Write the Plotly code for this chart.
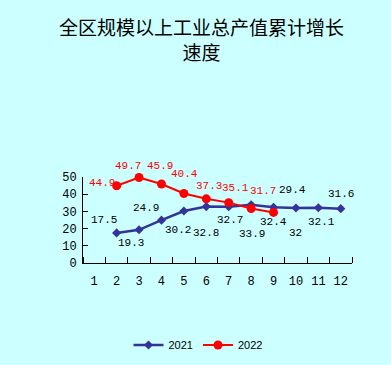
import plotly.graph_objects as go

# ---- data ----
months = list(range(1, 13))
month_labels = [str(m) for m in months]
months_2021 = [2, 3, 4, 5, 6, 7, 8, 9, 10, 11, 12]
values_2021 = [17.5, 19.3, 24.9, 30.2, 32.8, 32.7, 33.9, 32.4, 32, 32.1, 31.6]
months_2022 = [2, 3, 4, 5, 6, 7, 8, 9]
values_2022 = [44.9, 49.7, 45.9, 40.4, 37.3, 35.1, 31.7, 29.4]
y_ticks = [0, 10, 20, 30, 40, 50]
title_text = "全区规模以上工业总产值累计增长<br>速度"

# ---- style ----
BG = "#CCFFFF"
BLUE = "#333399"
RED = "#FF0000"
LABEL_FONT = "Liberation Mono"
PLOT_TOP, PLOT_BOTTOM = 177, 263
# pixel offsets of value labels (dx right, dy up)
shift_2021 = [(-13, 13), (-8, -13), (-15, 12), (-6, -19), (0, -26), (1, -13),
              (1, -29), (0, -15), (0, -25), (3, -14), (0, 15)]
shift_2022 = [(-15, 3), (-11, 12), (-1, 18), (1, 20), (3, 13), (7, 15),
              (12, 17), (19, 22)]
label_color_2022 = [RED] * 7 + ["black"]
title_center = (201, 39)

fig = go.Figure()
fig.add_trace(go.Scatter(
    x=months_2021, y=values_2021, name="2021", mode="lines+markers",
    line=dict(color=BLUE, width=2.5),
    marker=dict(symbol="diamond", size=7, color=BLUE),
    cliponaxis=False,
))
fig.add_trace(go.Scatter(
    x=months_2022, y=values_2022, name="2022", mode="lines+markers",
    line=dict(color=RED, width=2),
    marker=dict(symbol="circle", size=9, color=RED),
    cliponaxis=False,
))

annotations = []
for x, v, (dx, dy) in zip(months_2021, values_2021, shift_2021):
    annotations.append(dict(x=x, y=v, text=f"{v:g}", showarrow=False,
                            xshift=dx, yshift=dy,
                            font=dict(family=LABEL_FONT, size=11, color="black")))
for x, v, (dx, dy), c in zip(months_2022, values_2022, shift_2022, label_color_2022):
    annotations.append(dict(x=x, y=v, text=f"{v:g}", showarrow=False,
                            xshift=dx, yshift=dy,
                            font=dict(family=LABEL_FONT, size=11, color=c)))

plot_h = PLOT_BOTTOM - PLOT_TOP
plot_l, plot_r = 83, 352
annotations.append(dict(
    xref="paper", yref="paper",
    x=(title_center[0] - plot_l) / (plot_r - plot_l),
    y=(PLOT_BOTTOM - title_center[1]) / plot_h,
    xanchor="center", yanchor="middle", showarrow=False, text=title_text,
    font=dict(family="Noto Sans CJK SC", size=19, color="black")))

fig.update_layout(
    width=391, height=365,
    margin=dict(l=plot_l, r=391 - plot_r, t=PLOT_TOP, b=365 - PLOT_BOTTOM,
                autoexpand=False),
    paper_bgcolor=BG, plot_bgcolor=BG,
    showlegend=True,
    legend=dict(orientation="h", x=(198 - plot_l) / (plot_r - plot_l), xanchor="center",
                y=(PLOT_BOTTOM - 345) / plot_h, yanchor="middle",
                font=dict(family="Liberation Sans", size=11, color="black"),
                bgcolor="rgba(0,0,0,0)"),
    annotations=annotations,
    xaxis=dict(range=[0.5, 12.5], tickvals=months, ticktext=month_labels,
               ticks="", showgrid=False, zeroline=False,
               showline=True, linecolor="black", linewidth=1,
               ticklabelstandoff=7, automargin=False,
               tickfont=dict(family=LABEL_FONT, size=12, color="black"),
               minor=dict(tick0=0.5, dtick=1, ticks="inside", ticklen=6,
                          tickcolor="black", showgrid=False)),
    yaxis=dict(range=[0, 50], tickvals=y_ticks, ticks="inside", ticklen=5,
               tickcolor="black", showgrid=False, zeroline=False,
               showline=True, linecolor="black", linewidth=1,
               ticklabelstandoff=3, automargin=False,
               tickfont=dict(family=LABEL_FONT, size=12, color="black")),
)

fig.write_html("out.html",
               config={"displayModeBar": False},
               post_script="document.body.style.margin='0';"
                           "document.body.style.background='" + BG + "';")
